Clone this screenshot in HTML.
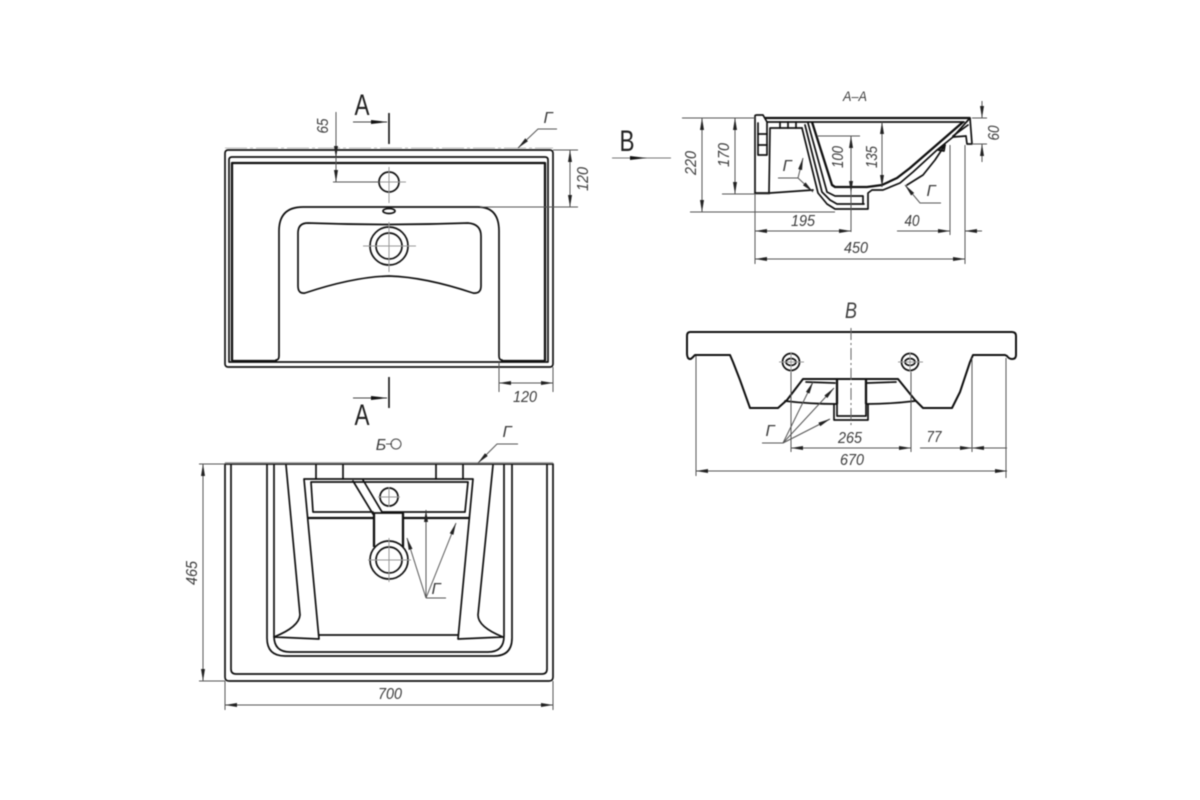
<!DOCTYPE html>
<html><head><meta charset="utf-8"><style>
html,body{margin:0;padding:0;background:#fff;width:1200px;height:800px;overflow:hidden}
svg{display:block;filter:blur(0.6px)}
text{font-family:"Liberation Sans",sans-serif;font-style:italic;fill:#3c3c3c;font-size:16px;text-anchor:middle}
.b{font-style:normal;font-size:30px;fill:#222}
.m{fill:none;stroke:#111;stroke-width:1.7;stroke-linejoin:round;stroke-linecap:round}
.t{fill:none;stroke:#111;stroke-width:2.3;stroke-linejoin:round}
.d{fill:none;stroke:#555;stroke-width:1}
.c{fill:none;stroke:#999;stroke-width:1}
.cd{fill:none;stroke:#666;stroke-width:1;stroke-dasharray:12 3 2 3}
</style></head><body>
<svg width="1200" height="800" viewBox="0 0 1200 800" xmlns="http://www.w3.org/2000/svg">
<defs>
<marker id="a" viewBox="0 0 12 6" refX="12" refY="3" markerWidth="12" markerHeight="6" orient="auto-start-reverse" markerUnits="userSpaceOnUse"><path d="M0 1L12 3L0 5z" fill="#222"/></marker>
</defs>

<!-- TOP VIEW -->
<rect class="m" x="225" y="150" width="328" height="217" rx="3"/>
<path class="m" d="M229 362V160Q229 157 232 157H545Q548 157 548 160V362Z"/>
<path class="t" d="M232 361V163H545V361"/>
<path class="t" d="M232 361H277M501 361H545"/>
<path class="m" d="M276 360Q279 360 279 356V231Q279 207 303 207H478Q499 207 499 231V356Q499 360 502 360"/>
<path class="m" d="M298 233Q298 223 308 223Q389 226 468 223Q481 224 481 236V286Q481 294 473 293Q425 277 389 276Q353 277 305 293Q298 294 298 286Z"/>
<circle class="m" cx="389" cy="182" r="10"/>
<circle class="m" cx="389" cy="246" r="19"/>
<circle class="m" cx="389" cy="246" r="13"/>
<ellipse class="m" cx="389" cy="211" rx="6" ry="2.5"/>
<path class="c" d="M389 167V203M374 182H406M389 222V272M363 246H416"/>
<path d="M225 148H553" stroke="#bbb" stroke-width="1" stroke-dasharray="22 3 3 3" fill="none"/>

<path class="d" d="M336 112V160M333 182H380"/>
<path class="d" d="M336 146V158" marker-end="url(#a)"/>
<path class="d" d="M336 160V182" marker-end="url(#a)"/>
<text transform="translate(328,126) rotate(-90)" textLength="15" lengthAdjust="spacingAndGlyphs">65</text>
<path class="d" d="M553 150H578M480 207H578"/>
<path class="d" d="M570 150V207" marker-start="url(#a)" marker-end="url(#a)"/>
<text transform="translate(588,179) rotate(-90)" textLength="24" lengthAdjust="spacingAndGlyphs">120</text>
<path class="d" d="M499 362V392M553 367V392"/>
<path class="d" d="M499 383H553" marker-start="url(#a)" marker-end="url(#a)"/>
<text x="525" y="402" textLength="24" lengthAdjust="spacingAndGlyphs">120</text>
<path class="d" d="M518 148L538 129H557" marker-start="url(#a)"/>
<text x="548" y="123" textLength="9" lengthAdjust="spacingAndGlyphs">Г</text>

<path d="M389 113V144M389 377V408" stroke="#111" stroke-width="1.6"/>
<path d="M353 122H387" stroke="#444" fill="none"/><path d="M371 120L388 122L371 124z" fill="#111"/>
<path d="M353 398H387" stroke="#444" fill="none"/><path d="M371 396L388 398L371 400z" fill="#111"/>
<text class="b" x="362" y="115" textLength="15" lengthAdjust="spacingAndGlyphs">A</text>
<text class="b" x="362" y="425" textLength="15" lengthAdjust="spacingAndGlyphs">A</text>

<!-- BOTTOM VIEW -->
<path class="m" d="M225 464H553V677Q553 681 549 681H229Q225 681 225 677Z"/>
<path class="m" d="M231 464V669Q231 674 236 674H542Q547 674 547 669V464"/>
<path class="m" d="M267 464V638Q267 656 285 656H494Q512 656 512 638V464"/>
<path class="m" d="M274 464V636Q274 652 290 652H488Q504 652 504 636V464"/>
<path class="m" d="M286 465L300 615Q299 627 274 637L319 639L304 479H473L458 639L503 637Q478 627 478 615L493 465"/>
<path class="m" d="M319 635H458"/>
<path class="m" d="M311 482L313 512H373M382 512H465L468 482H311"/>
<path class="t" d="M307 518H374M403 518H470"/>
<path class="m" d="M316 464V479M343 464V479M436 464V479M463 464V479"/>
<path class="m" d="M353 481L373 514M363 480L382 512"/>
<circle class="m" cx="389" cy="497" r="9"/>
<path class="t" d="M374 513V547M403 513V547"/>
<path class="m" d="M374 513H403"/>
<circle class="m" cx="389" cy="560" r="19" stroke-width="2"/>
<circle class="m" cx="389" cy="560" r="13" stroke-width="2"/>
<path class="c" d="M389 487V507M378 497H400M389 538V582M368 560H411"/>
<path d="M225 463H553" stroke="#888" stroke-width="1.4" fill="none"/>

<path class="d" d="M199 464H225M199 681H225M225 681V710M553 681V710"/>
<path class="d" d="M203 464V681" marker-start="url(#a)" marker-end="url(#a)"/>
<text transform="translate(197,573) rotate(-90)" textLength="24" lengthAdjust="spacingAndGlyphs">465</text>
<path class="d" d="M225 705H553" marker-start="url(#a)" marker-end="url(#a)"/>
<text x="390" y="699" textLength="24" lengthAdjust="spacingAndGlyphs">700</text>
<path class="d" d="M478 463L497 444H518" marker-start="url(#a)"/>
<text x="507" y="437" textLength="9" lengthAdjust="spacingAndGlyphs">Г</text>
<text x="381" y="450">Б</text>
<path class="d" d="M386 444H392"/>
<circle cx="396" cy="444" r="5" fill="none" stroke="#444"/>
<path class="d" d="M446 598H426"/>
<path class="d" d="M426 598V510" marker-end="url(#a)"/>
<path class="d" d="M426 598L456 523" marker-end="url(#a)"/>
<path class="d" d="M426 598L407 538" marker-end="url(#a)"/>
<text x="436" y="594" textLength="9" lengthAdjust="spacingAndGlyphs">Г</text>

<!-- SECTION A-A -->
<text x="855" y="101" style="font-size:14px" textLength="24" lengthAdjust="spacingAndGlyphs">А–А</text>
<path class="m" d="M755 193V116Q755 115 757 115H763L767 122"/>
<path class="t" d="M765 118H970"/>
<path class="m" d="M767 122H964"/>
<path class="m" d="M758 123V155H767V123"/>
<path class="m" d="M758 134H767M758 145H767"/>
<path class="m" d="M769 193L770 128H802"/>
<path class="m" d="M780 122V128M788 122V128M796 122V128"/>
<path class="m" d="M755 193H770L813 190"/>
<path class="m" d="M802 128L818 193L827 204L835 209H868V193L872 190L883 190L900 183L913 172L937 150L953 137L970 118"/>
<path class="m" d="M805 125L822 192L830 200L837 204H864"/>
<path class="m" d="M808 123L827 192L835 196H863V204"/>
<path class="t" d="M812 122L832 185L835 187H867L882 185L897 178L910 168L963 122"/>
<path class="m" d="M907 185L923 175L935 160L945 145"/>
<path class="m" d="M970 118L972 144H967L966 136L953 137"/>
<path class="m" d="M953 136L968 125"/>
<path class="m" d="M938 150L945 145L944 151Z"/>

<path class="d" d="M682 118H755M690 212H835M722 194H770M817 136H860"/>
<path class="d" d="M702 118V212" marker-start="url(#a)" marker-end="url(#a)"/>
<path class="d" d="M735 118V194" marker-start="url(#a)" marker-end="url(#a)"/>
<path class="d" d="M851 136V193" marker-start="url(#a)" marker-end="url(#a)"/>
<path class="d" d="M851 193V232"/>
<path class="d" d="M882 122V187" marker-start="url(#a)" marker-end="url(#a)"/>
<path class="d" d="M972 118H987M972 144H987"/>
<path class="d" d="M982 101V118" marker-end="url(#a)"/>
<path class="d" d="M982 162V144" marker-end="url(#a)"/>
<path class="d" d="M755 194V264M950 145V235M965 145V264"/>
<path class="d" d="M755 231H851" marker-start="url(#a)" marker-end="url(#a)"/>
<path class="d" d="M897 231H950" marker-end="url(#a)"/>
<path class="d" d="M982 231H965" marker-end="url(#a)"/>
<path class="d" d="M755 259H965" marker-start="url(#a)" marker-end="url(#a)"/>
<text transform="translate(696,163) rotate(-90)" textLength="24" lengthAdjust="spacingAndGlyphs">220</text>
<text transform="translate(729,155) rotate(-90)" textLength="24" lengthAdjust="spacingAndGlyphs">170</text>
<text transform="translate(843,157) rotate(-90)" textLength="22" lengthAdjust="spacingAndGlyphs">100</text>
<text transform="translate(877,157) rotate(-90)" textLength="22" lengthAdjust="spacingAndGlyphs">135</text>
<text transform="translate(999,133) rotate(-90)" textLength="15" lengthAdjust="spacingAndGlyphs">60</text>
<text x="803" y="226" textLength="24" lengthAdjust="spacingAndGlyphs">195</text>
<text x="912" y="226" textLength="15" lengthAdjust="spacingAndGlyphs">40</text>
<text x="856" y="253" textLength="24" lengthAdjust="spacingAndGlyphs">450</text>
<path class="d" d="M778 178H798L803 158" marker-end="url(#a)"/>
<path class="d" d="M798 178L813 192" marker-end="url(#a)"/>
<text x="787" y="171" textLength="9" lengthAdjust="spacingAndGlyphs">Г</text>
<path class="d" d="M941 203H920L905 185" marker-end="url(#a)"/>
<text x="931" y="196" textLength="9" lengthAdjust="spacingAndGlyphs">Г</text>
<text class="b" x="627" y="151" textLength="15" lengthAdjust="spacingAndGlyphs">B</text>
<path d="M612 158H671" stroke="#777" fill="none"/><path d="M630 156L647 158L630 160z" fill="#111"/>

<!-- VIEW B -->
<text x="851" y="318" style="font-size:22px" textLength="12" lengthAdjust="spacingAndGlyphs">В</text>
<path class="m" style="stroke-width:2" d="M690 332H1012Q1016 332 1016 336V355Q1016 359 1012 359Q1009 359 1007 356L1005 355H973L970 362L960 392L952 408H923L915 400L898 379H803L787 400L778 408H750L740 380L733 362L730 355H695L692 358Q690 360 688 358Q687 356 687 354V336Q687 332 690 332Z"/>
<path class="m" d="M785 401Q810 404 837 404M867 404Q890 404 915 401"/>
<path class="m" d="M806 382L835 383M867 383L896 382"/>
<path class="t" d="M837 379V404M866 379V404"/>
<path class="m" d="M837 379V416H866V379"/>
<path class="m" d="M834 404V420H868V404"/>
<circle class="m" cx="791" cy="362" r="8.5"/><circle class="m" cx="910" cy="362" r="8.5"/>
<ellipse class="m" cx="791" cy="362" rx="5" ry="3.5"/><ellipse class="m" cx="910" cy="362" rx="5" ry="3.5"/>
<path class="c" d="M779 362H804M898 362H923M791 352V372M910 352V372"/>
<path class="cd" d="M851 328V425"/>
<path class="d" d="M696 356V476M1006 358V478M791 372V452M911 372V452M972 358V452"/>
<path class="d" d="M791 448H911" marker-start="url(#a)" marker-end="url(#a)"/>
<path class="d" d="M920 448H972" marker-end="url(#a)"/>
<path class="d" d="M1007 448H972" marker-end="url(#a)"/>
<path class="d" d="M696 471H1007" marker-start="url(#a)" marker-end="url(#a)"/>
<text x="850" y="443" textLength="24" lengthAdjust="spacingAndGlyphs">265</text>
<text x="934" y="442" textLength="15" lengthAdjust="spacingAndGlyphs">77</text>
<text x="852" y="465" textLength="24" lengthAdjust="spacingAndGlyphs">670</text>
<path class="d" d="M762 443H783"/>
<path class="d" d="M783 443L813 382" marker-end="url(#a)"/>
<path class="d" d="M783 443L834 388" marker-end="url(#a)"/>
<path class="d" d="M783 443L830 419" marker-end="url(#a)"/>
<text x="770" y="436" textLength="9" lengthAdjust="spacingAndGlyphs">Г</text>
</svg>
</body></html>
